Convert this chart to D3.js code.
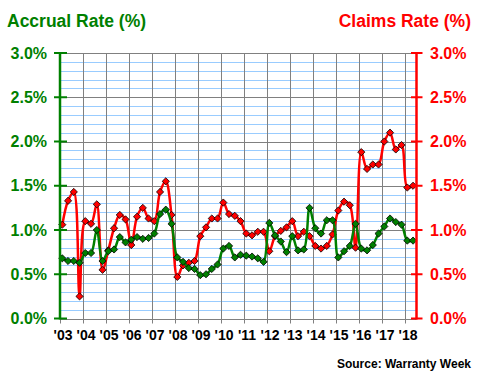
<!DOCTYPE html>
<html><head><meta charset="utf-8">
<script src="https://cdn.jsdelivr.net/npm/d3@7"></script>
<style>
html,body{margin:0;padding:0;background:#fff;}
svg{display:block;font-family:"Liberation Sans",Arial,sans-serif;font-weight:bold;}
</style></head>
<body>
<svg id="c" width="480" height="380"></svg>
<script>
const years = ["'03","'04","'05","'06","'07","'08","'09","'10","'11","'12","'13","'14","'15","'16","'17","'18"];
const yTicks = [0, 0.5, 1.0, 1.5, 2.0, 2.5, 3.0];
const yTickLabels = ["0.0%","0.5%","1.0%","1.5%","2.0%","2.5%","3.0%"];
// quarterly values, 2003 Q1 .. 2018 Q2
const accrual = [0.68,0.65,0.65,0.63,0.74,0.74,1.00,0.65,0.76,0.78,0.92,0.86,0.89,0.92,0.90,0.91,
  0.96,1.18,1.23,1.07,0.69,0.64,0.57,0.56,0.49,0.50,0.56,0.61,0.79,0.82,0.69,0.72,
  0.71,0.70,0.68,0.64,1.08,0.94,0.87,0.75,0.93,0.77,0.78,1.25,1.02,0.96,1.11,1.11,
  0.69,0.76,0.82,1.07,0.79,0.77,0.83,0.96,1.04,1.13,1.09,1.06,0.88,0.88];
const claims = [1.06,1.33,1.43,0.25,1.10,1.07,1.29,0.55,0.77,1.02,1.17,1.12,0.83,1.15,1.25,1.13,
  1.10,1.43,1.55,1.17,0.47,0.60,0.63,0.65,0.93,1.03,1.13,1.13,1.31,1.18,1.16,1.10,
  0.96,0.94,0.98,0.98,0.76,0.93,0.99,1.03,1.10,0.93,0.98,0.93,0.82,0.79,0.82,0.95,
  1.22,1.32,1.28,0.80,1.88,1.69,1.74,1.74,2.00,2.10,1.91,1.96,1.48,1.50];
const titleLeft = "Accrual Rate (%)";
const titleRight = "Claims Rate (%)";
const source = "Source: Warranty Week";

const svg = d3.select("#c");
const x = d3.scaleLinear().domain([2003, 2018.5]).range([60, 416.5]);
const y = d3.scaleLinear().domain([0, 3]).range([318.5, 53]);
const GREEN = "#008000", RED = "#ff0000";

// minor horizontal grid (0.1%)
const minor = d3.range(1, 30).map(d => d / 10).filter(d => Math.round(d * 10) % 5 !== 0);
svg.append("g").selectAll("line").data(minor).join("line")
  .attr("x1", x(2003)).attr("x2", x(2018.5))
  .attr("y1", d => Math.round(y(d)) + 0.5).attr("y2", d => Math.round(y(d)) + 0.5)
  .attr("stroke", "#99ccff").attr("stroke-width", 1);
// major horizontal grid
svg.append("g").selectAll("line").data(yTicks).join("line")
  .attr("x1", x(2003)).attr("x2", x(2018.5))
  .attr("y1", d => Math.round(y(d)) + 0.5).attr("y2", d => Math.round(y(d)) + 0.5)
  .attr("stroke", "#808080").attr("stroke-width", 1);
// vertical year grid + bottom ticks
const yearVals = years.map((d, i) => 2003 + i);
svg.append("g").selectAll("line").data(yearVals).join("line")
  .attr("x1", d => Math.round(x(d)) + 0.5).attr("x2", d => Math.round(x(d)) + 0.5)
  .attr("y1", y(3)).attr("y2", y(0) + 5)
  .attr("stroke", "#808080").attr("stroke-width", 1);

// year labels
svg.append("g").selectAll("text").data(years).join("text")
  .attr("x", (d, i) => x(2003 + i) + 3).attr("y", 340)
  .attr("text-anchor", "middle").attr("font-size", 14).attr("fill", "#000")
  .text(d => d);

// series
const tx = i => 2003 + (i + 0.4) / 4;
const line = d3.line().x((d, i) => x(tx(i))).y(d => y(d)).curve(d3.curveCatmullRom.alpha(0.5));
const diamond = r => `M0,${-r}L${r},0L0,${r}L${-r},0Z`;

function drawSeries(vals, color) {
  svg.append("path").datum(vals).attr("d", line)
    .attr("fill", "none").attr("stroke", color).attr("stroke-width", 2.5);
  svg.append("g").selectAll("path").data(vals).join("path")
    .attr("transform", (d, i) => `translate(${x(tx(i))},${y(d)})`)
    .attr("d", diamond(3.6))
    .attr("fill", color).attr("stroke", "#000").attr("stroke-width", 0.8);
}
drawSeries(claims, RED);
drawSeries(accrual, GREEN);

// left axis
svg.append("line").attr("x1", 60).attr("x2", 60).attr("y1", y(3) - 1).attr("y2", y(0) + 1)
  .attr("stroke", GREEN).attr("stroke-width", 2.5);
svg.append("g").selectAll("line").data(yTicks).join("line")
  .attr("x1", 54).attr("x2", 67).attr("y1", d => y(d)).attr("y2", d => y(d))
  .attr("stroke", GREEN).attr("stroke-width", 2);
svg.append("g").selectAll("text").data(yTicks).join("text")
  .attr("x", 47).attr("y", d => y(d) + 5.7).attr("text-anchor", "end")
  .attr("font-size", 16).attr("fill", GREEN).text((d, i) => yTickLabels[i]);

// right axis
svg.append("line").attr("x1", 416.5).attr("x2", 416.5).attr("y1", y(3) - 1).attr("y2", y(0) + 1)
  .attr("stroke", RED).attr("stroke-width", 2.5);
svg.append("g").selectAll("line").data(yTicks).join("line")
  .attr("x1", 411).attr("x2", 422.5).attr("y1", d => y(d)).attr("y2", d => y(d))
  .attr("stroke", RED).attr("stroke-width", 2);
svg.append("g").selectAll("text").data(yTicks).join("text")
  .attr("x", 430).attr("y", d => y(d) + 5.7).attr("text-anchor", "start")
  .attr("font-size", 16).attr("fill", RED).text((d, i) => yTickLabels[i]);

// titles
svg.append("text").attr("x", 7).attr("y", 27).attr("font-size", 17.5).attr("fill", GREEN).text(titleLeft);
svg.append("text").attr("x", 471).attr("y", 27).attr("text-anchor", "end").attr("font-size", 17.5).attr("fill", RED).text(titleRight);
svg.append("text").attr("x", 471).attr("y", 368).attr("text-anchor", "end").attr("font-size", 12).attr("fill", "#000").text(source);
</script>
</body></html>
